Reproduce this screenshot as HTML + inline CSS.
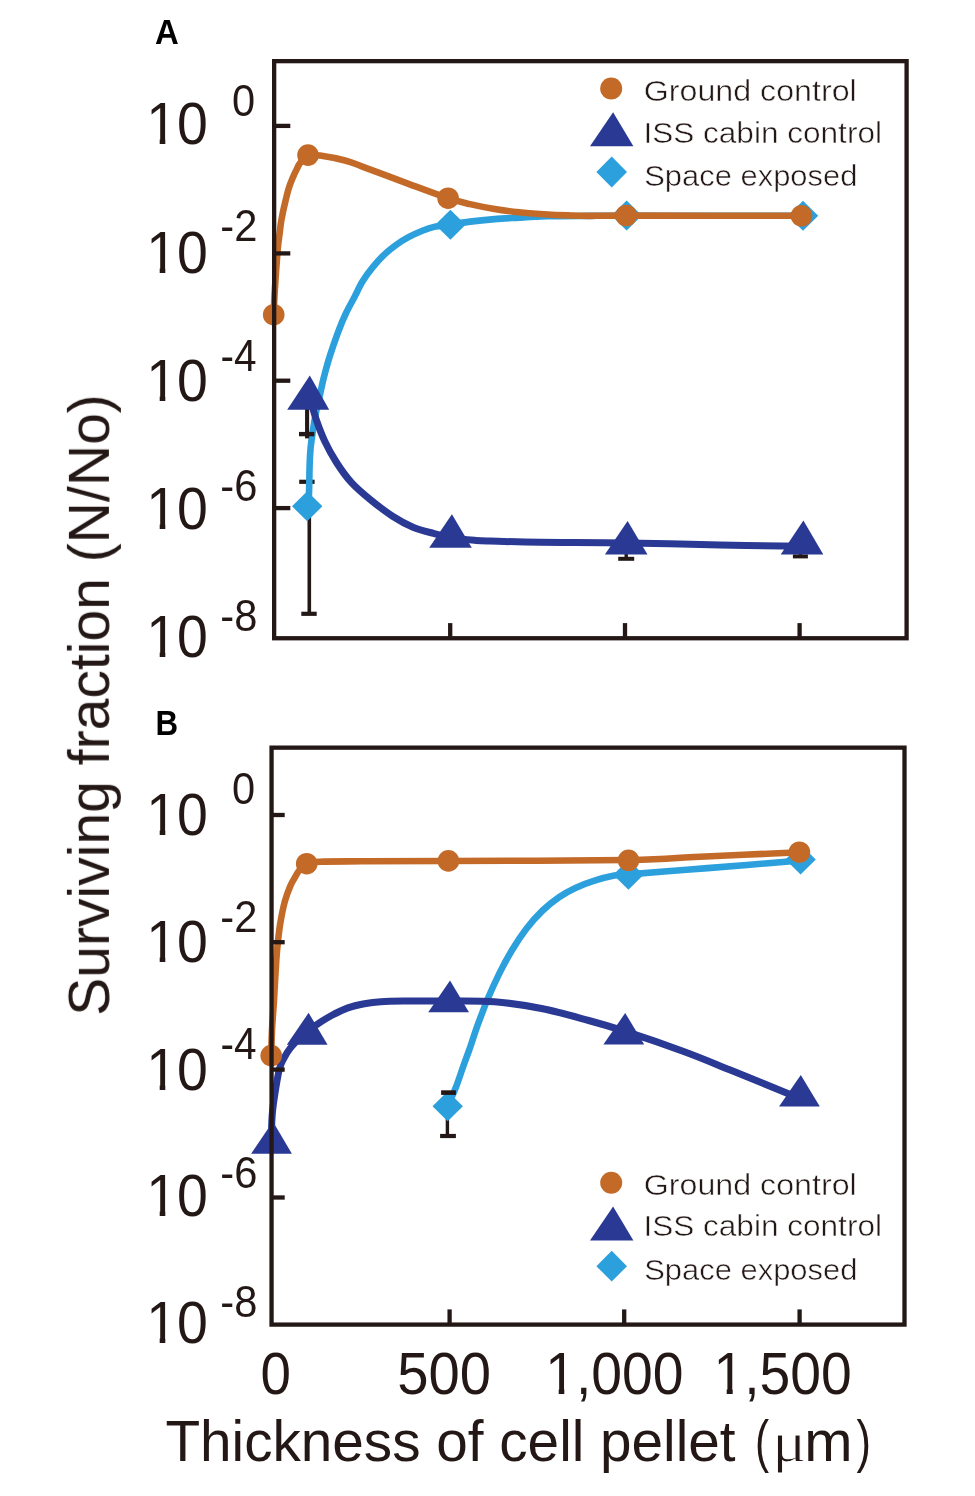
<!DOCTYPE html>
<html><head><meta charset="utf-8"><title>Surviving fraction vs thickness of cell pellet</title>
<style>
html,body{margin:0;padding:0;background:#fff;}
body{width:975px;height:1496px;overflow:hidden;font-family:"Liberation Sans",sans-serif;}
svg{display:block;}
</style></head>
<body>
<svg width="975" height="1496" viewBox="0 0 975 1496">
<rect width="975" height="1496" fill="#fff"/>
<line x1="309.3" y1="481.8" x2="309.3" y2="613.8" stroke="#231815" stroke-width="3.6"/>
<line x1="299.2" y1="481.8" x2="314.6" y2="481.8" stroke="#231815" stroke-width="4.2"/>
<line x1="301.3" y1="613.8" x2="316.7" y2="613.8" stroke="#231815" stroke-width="4.2"/>
<line x1="626.2" y1="552.0" x2="626.2" y2="558.8" stroke="#231815" stroke-width="3.4"/>
<line x1="618.2" y1="558.8" x2="634.2" y2="558.8" stroke="#231815" stroke-width="4.0"/>
<line x1="800.4" y1="550.0" x2="800.4" y2="556.4" stroke="#231815" stroke-width="3.4"/>
<line x1="792.9" y1="556.4" x2="807.9" y2="556.4" stroke="#231815" stroke-width="4.0"/>
<path d="M308.6,506.0 C308.7,502.8 309.0,493.4 309.2,486.7 C309.4,480.0 309.4,472.4 309.6,466.0 C309.8,459.6 310.0,454.0 310.6,448.0 C311.2,442.0 312.1,436.2 313.0,430.0 C313.9,423.8 315.0,417.5 316.3,411.0 C317.6,404.5 319.6,396.4 320.8,391.0 C322.0,385.6 322.4,383.2 323.6,378.4 C324.8,373.6 326.4,367.5 328.0,362.0 C329.6,356.5 331.4,351.1 333.3,345.6 C335.2,340.1 337.1,334.7 339.2,329.2 C341.3,323.7 343.6,318.2 346.2,312.8 C348.8,307.4 351.8,302.2 354.5,297.0 C357.2,291.8 359.3,286.7 362.3,281.8 C365.3,276.9 369.0,271.8 372.6,267.4 C376.2,262.9 379.9,258.8 383.8,255.1 C387.7,251.3 392.1,247.9 396.2,244.9 C400.3,241.9 404.2,239.5 408.5,237.2 C412.8,234.9 417.5,232.7 421.8,231.0 C426.1,229.3 429.3,228.0 434.1,226.9 C438.9,225.8 444.4,225.3 450.4,224.4 C456.4,223.5 462.6,222.5 470.0,221.6 C477.4,220.7 486.4,219.8 494.6,219.1 C502.8,218.4 510.5,218.1 519.2,217.6 C527.9,217.1 535.2,216.6 547.0,216.3 C558.8,216.0 576.8,216.0 590.0,215.9 C603.2,215.8 590.7,215.7 626.2,215.7 C661.7,215.7 773.5,215.8 803.0,215.8" fill="none" stroke="#2CA0DC" stroke-width="6.6" stroke-linejoin="round" stroke-linecap="butt"/>
<polygon points="307.2,491.3 322.4,506.3 307.2,521.3 292.0,506.3" fill="#2CA0DC"/>
<polygon points="450.4,209.8 465.6,224.8 450.4,239.8 435.2,224.8" fill="#2CA0DC"/>
<polygon points="626.6,200.6 641.8,215.6 626.6,230.6 611.4,215.6" fill="#2CA0DC"/>
<polygon points="803.0,200.8 818.2,215.8 803.0,230.8 787.8,215.8" fill="#2CA0DC"/>
<line x1="307.1" y1="405.0" x2="307.1" y2="438.4" stroke="#231815" stroke-width="4.1"/>
<line x1="299.0" y1="434.1" x2="314.3" y2="434.1" stroke="#231815" stroke-width="4.4"/>
<path d="M309.0,396.0 C309.2,396.8 309.2,396.3 310.5,400.5 C311.8,404.7 314.3,414.2 316.7,421.0 C319.1,427.8 321.6,434.7 324.9,441.5 C328.1,448.3 331.8,455.1 336.2,462.0 C340.6,468.9 345.5,476.1 351.5,482.6 C357.5,489.1 365.1,495.4 372.0,501.0 C378.9,506.6 385.8,511.8 392.6,516.2 C399.4,520.6 406.2,524.3 413.0,527.2 C419.8,530.1 427.1,531.7 433.6,533.4 C440.1,535.1 445.2,536.5 452.0,537.6 C458.8,538.8 468.3,539.7 474.6,540.3 C480.9,540.9 479.1,540.8 490.0,541.1 C500.9,541.4 517.3,542.0 540.0,542.3 C562.7,542.6 596.2,542.4 626.2,542.9 C656.2,543.4 690.7,544.5 720.0,545.0 C749.3,545.5 788.3,546.0 802.0,546.2" fill="none" stroke="#2A3A94" stroke-width="7.0" stroke-linejoin="round" stroke-linecap="butt"/>
<polygon points="309.8,375.6 329.2,409.7 287.2,409.7" fill="#2A3A94"/>
<polygon points="451.9,514.2 471.8,547.8 429.2,547.8" fill="#2A3A94"/>
<polygon points="627.6,520.9 647.5,554.5 604.9,554.5" fill="#2A3A94"/>
<polygon points="803.4,520.6 823.3,554.5 780.7,554.5" fill="#2A3A94"/>
<path d="M273.7,314.5 C273.9,310.5 274.1,301.1 274.8,290.4 C275.5,279.7 276.8,260.0 277.6,250.3 C278.4,240.6 279.2,237.1 279.8,232.0 C280.4,226.9 280.6,224.4 281.4,220.0 C282.2,215.6 283.2,210.7 284.4,205.6 C285.6,200.5 287.1,194.0 288.5,189.2 C289.9,184.4 291.7,180.3 293.1,176.9 C294.5,173.5 295.8,171.1 297.0,168.7 C298.2,166.3 298.5,164.8 300.4,162.6 C302.2,160.3 304.8,156.4 308.1,155.2 C311.4,154.0 313.9,154.7 320.0,155.6 C326.1,156.5 337.9,158.7 345.0,160.5 C352.1,162.3 351.7,162.7 362.3,166.6 C372.9,170.5 394.2,178.5 408.5,183.8 C422.8,189.1 437.9,194.8 448.1,198.2 C458.4,201.6 462.2,202.3 470.0,204.1 C477.8,205.9 486.4,207.6 494.6,209.0 C502.8,210.4 511.0,211.4 519.2,212.3 C527.4,213.2 535.6,213.7 543.8,214.2 C552.0,214.7 560.8,215.1 568.5,215.4 C576.2,215.7 580.4,215.9 590.0,215.9 C599.6,215.9 591.0,215.6 626.2,215.6 C661.5,215.6 772.3,215.8 801.5,215.8" fill="none" stroke="#C36A28" stroke-width="6.6" stroke-linejoin="round" stroke-linecap="butt"/>
<circle cx="273.7" cy="314.7" r="10.8" fill="#C36A28"/>
<circle cx="308.0" cy="155.1" r="10.8" fill="#C36A28"/>
<circle cx="448.1" cy="198.2" r="10.8" fill="#C36A28"/>
<circle cx="626.2" cy="215.5" r="10.8" fill="#C36A28"/>
<circle cx="801.5" cy="215.8" r="10.8" fill="#C36A28"/>
<circle cx="611.2" cy="88.5" r="11.0" fill="#C36A28"/>
<polygon points="613.1,112.2 633.4,146.2 590.0,146.2" fill="#2A3A94"/>
<polygon points="611.7,156.6 627.0,172.0 611.7,187.4 596.4,172.0" fill="#2CA0DC"/>
<rect x="274.15" y="61.15" width="632.45" height="577.10" fill="none" stroke="#231815" stroke-width="4.3"/>
<line x1="274.1" y1="125.9" x2="290.3" y2="125.9" stroke="#231815" stroke-width="4.3"/>
<line x1="274.1" y1="253.4" x2="290.3" y2="253.4" stroke="#231815" stroke-width="4.3"/>
<line x1="274.1" y1="380.7" x2="290.3" y2="380.7" stroke="#231815" stroke-width="4.3"/>
<line x1="274.1" y1="508.1" x2="290.3" y2="508.1" stroke="#231815" stroke-width="4.3"/>
<line x1="450.2" y1="638.2" x2="450.2" y2="623.1" stroke="#231815" stroke-width="4.3"/>
<line x1="625.0" y1="638.2" x2="625.0" y2="623.1" stroke="#231815" stroke-width="4.3"/>
<line x1="799.6" y1="638.2" x2="799.6" y2="623.1" stroke="#231815" stroke-width="4.3"/>
<line x1="447.4" y1="1092.6" x2="447.4" y2="1136.0" stroke="#231815" stroke-width="3.4"/>
<line x1="440.1" y1="1136.0" x2="455.9" y2="1136.0" stroke="#231815" stroke-width="4.2"/>
<path d="M447.7,1106.3 C449.1,1103.1 453.4,1093.5 455.9,1087.2 C458.4,1080.9 460.3,1074.7 462.5,1068.5 C464.7,1062.3 466.6,1057.3 469.2,1050.0 C471.8,1042.7 474.7,1033.1 477.9,1024.4 C481.1,1015.7 484.6,1006.2 488.2,997.7 C491.8,989.2 495.6,981.0 499.5,973.1 C503.4,965.2 507.4,957.9 511.8,950.5 C516.2,943.1 521.1,935.7 526.2,929.0 C531.3,922.3 537.1,915.8 542.6,910.5 C548.1,905.2 553.5,901.0 559.0,897.2 C564.5,893.4 569.6,890.6 575.4,887.9 C581.2,885.2 587.3,882.8 593.8,880.8 C600.3,878.8 608.6,876.7 614.4,875.6 C620.2,874.5 616.1,875.4 628.7,874.4 C641.3,873.4 669.8,871.1 690.0,869.5 C710.2,867.9 731.6,866.2 750.0,864.7 C768.4,863.2 792.2,861.2 800.6,860.5" fill="none" stroke="#2CA0DC" stroke-width="6.6" stroke-linejoin="round" stroke-linecap="butt"/>
<polygon points="447.7,1091.3 462.9,1106.3 447.7,1121.3 432.5,1106.3" fill="#2CA0DC"/>
<polygon points="628.4,859.8 643.6,874.8 628.4,889.8 613.2,874.8" fill="#2CA0DC"/>
<polygon points="800.6,844.5 815.8,859.5 800.6,874.5 785.4,859.5" fill="#2CA0DC"/>
<line x1="441.1" y1="1092.6" x2="455.9" y2="1092.6" stroke="#231815" stroke-width="4.6"/>
<path d="M271.3,1140.0 C271.4,1135.8 271.6,1122.7 272.2,1115.0 C272.8,1107.3 273.7,1101.5 274.9,1093.8 C276.1,1086.1 277.9,1075.0 279.4,1069.0 C280.9,1063.0 282.1,1061.5 284.0,1058.0 C285.9,1054.5 287.4,1051.7 290.5,1047.9 C293.6,1044.1 298.1,1039.1 302.5,1035.2 C306.9,1031.3 312.4,1027.7 317.2,1024.4 C322.0,1021.1 326.4,1018.2 331.5,1015.5 C336.6,1012.8 342.4,1009.9 347.9,1007.9 C353.4,1005.9 358.9,1004.8 364.4,1003.8 C369.9,1002.8 374.3,1002.2 380.8,1001.8 C387.3,1001.3 394.4,1001.2 403.3,1001.1 C412.2,1001.0 426.6,1001.0 434.1,1001.0 C441.7,1001.0 438.6,1000.9 448.6,1001.0 C458.7,1001.1 478.9,1000.5 494.4,1001.8 C509.9,1003.0 525.8,1005.4 541.5,1008.5 C557.2,1011.6 574.7,1016.7 588.7,1020.5 C602.7,1024.3 609.8,1026.3 625.5,1031.4 C641.2,1036.5 665.5,1044.8 683.0,1051.2 C700.5,1057.6 710.8,1062.1 730.3,1070.0 C749.8,1077.9 788.4,1093.7 800.0,1098.4" fill="none" stroke="#2A3A94" stroke-width="7.0" stroke-linejoin="round" stroke-linecap="butt"/>
<polygon points="272.9,1121.6 291.9,1153.8 251.1,1153.8" fill="#2A3A94"/>
<polygon points="308.6,1012.8 327.6,1044.8 286.8,1044.8" fill="#2A3A94"/>
<polygon points="450.0,980.4 469.0,1012.3 428.2,1012.3" fill="#2A3A94"/>
<polygon points="625.2,1013.0 644.2,1044.6 603.4,1044.6" fill="#2A3A94"/>
<polygon points="800.8,1074.9 819.8,1106.5 779.0,1106.5" fill="#2A3A94"/>
<path d="M271.2,1055.5 C271.3,1051.2 271.6,1039.0 272.0,1030.0 C272.4,1021.0 273.2,1013.2 273.9,1001.5 C274.6,989.8 275.6,970.2 276.3,960.0 C277.0,949.8 277.4,946.3 278.1,940.0 C278.8,933.7 279.4,928.4 280.5,922.0 C281.6,915.6 283.2,907.5 284.8,901.5 C286.4,895.5 288.4,890.5 290.2,886.2 C292.0,881.9 294.3,878.5 295.8,875.9 C297.3,873.3 297.5,872.4 299.3,870.4 C301.1,868.4 303.2,865.2 306.6,863.8 C310.1,862.3 310.8,862.1 320.0,861.7 C329.2,861.3 340.6,861.4 362.0,861.3 C383.4,861.2 404.2,861.2 448.6,861.0 C493.0,860.8 586.5,860.7 628.4,860.0 C670.3,859.3 671.5,858.0 700.0,856.7 C728.5,855.4 783.0,853.0 799.6,852.3" fill="none" stroke="#C36A28" stroke-width="6.6" stroke-linejoin="round" stroke-linecap="butt"/>
<circle cx="271.2" cy="1055.6" r="10.8" fill="#C36A28"/>
<circle cx="306.7" cy="863.7" r="10.8" fill="#C36A28"/>
<circle cx="448.4" cy="860.9" r="10.8" fill="#C36A28"/>
<circle cx="628.5" cy="860.3" r="10.8" fill="#C36A28"/>
<circle cx="799.4" cy="852.2" r="10.8" fill="#C36A28"/>
<circle cx="611.2" cy="1182.7" r="11.0" fill="#C36A28"/>
<polygon points="613.1,1206.4 633.4,1240.4 590.0,1240.4" fill="#2A3A94"/>
<polygon points="611.7,1250.8 627.0,1266.2 611.7,1281.6 596.4,1266.2" fill="#2CA0DC"/>
<rect x="271.55" y="747.65" width="632.95" height="576.95" fill="none" stroke="#231815" stroke-width="4.3"/>
<line x1="271.6" y1="815.0" x2="284.7" y2="815.0" stroke="#231815" stroke-width="4.3"/>
<line x1="271.6" y1="942.2" x2="284.7" y2="942.2" stroke="#231815" stroke-width="4.3"/>
<line x1="271.6" y1="1069.6" x2="284.7" y2="1069.6" stroke="#231815" stroke-width="4.3"/>
<line x1="271.6" y1="1197.5" x2="284.7" y2="1197.5" stroke="#231815" stroke-width="4.3"/>
<line x1="449.6" y1="1324.6" x2="449.6" y2="1309.4" stroke="#231815" stroke-width="4.3"/>
<line x1="624.2" y1="1324.6" x2="624.2" y2="1309.4" stroke="#231815" stroke-width="4.3"/>
<line x1="799.6" y1="1324.6" x2="799.6" y2="1309.4" stroke="#231815" stroke-width="4.3"/>
<g opacity="0.999">
<text transform="translate(155.10,43.80) scale(0.9480,1)" font-family="'Liberation Sans',sans-serif" font-size="34.8" fill="#000" font-weight="bold">A</text>
<text transform="translate(155.60,734.90) scale(0.9000,1)" font-family="'Liberation Sans',sans-serif" font-size="34.8" fill="#000" font-weight="bold">B</text>
<text transform="translate(146.24,144.40) scale(0.9396,1)" font-family="'Liberation Sans',sans-serif" font-size="59" fill="#231815">10</text>
<text transform="translate(146.24,272.80) scale(0.9396,1)" font-family="'Liberation Sans',sans-serif" font-size="59" fill="#231815">10</text>
<text transform="translate(146.24,400.60) scale(0.9396,1)" font-family="'Liberation Sans',sans-serif" font-size="59" fill="#231815">10</text>
<text transform="translate(146.24,529.40) scale(0.9396,1)" font-family="'Liberation Sans',sans-serif" font-size="59" fill="#231815">10</text>
<text transform="translate(146.24,656.60) scale(0.9396,1)" font-family="'Liberation Sans',sans-serif" font-size="59" fill="#231815">10</text>
<text transform="translate(146.24,835.10) scale(0.9396,1)" font-family="'Liberation Sans',sans-serif" font-size="59" fill="#231815">10</text>
<text transform="translate(146.24,962.00) scale(0.9396,1)" font-family="'Liberation Sans',sans-serif" font-size="59" fill="#231815">10</text>
<text transform="translate(146.24,1090.00) scale(0.9396,1)" font-family="'Liberation Sans',sans-serif" font-size="59" fill="#231815">10</text>
<text transform="translate(146.24,1216.30) scale(0.9396,1)" font-family="'Liberation Sans',sans-serif" font-size="59" fill="#231815">10</text>
<text transform="translate(146.24,1343.10) scale(0.9396,1)" font-family="'Liberation Sans',sans-serif" font-size="59" fill="#231815">10</text>
<text transform="translate(231.95,115.80) scale(0.9455,1)" font-family="'Liberation Sans',sans-serif" font-size="44" fill="#231815">0</text>
<text transform="translate(220.35,240.80) scale(0.9467,1)" font-family="'Liberation Sans',sans-serif" font-size="44" fill="#231815">-2</text>
<text transform="translate(220.38,370.50) scale(0.9216,1)" font-family="'Liberation Sans',sans-serif" font-size="44" fill="#231815">-4</text>
<text transform="translate(220.35,500.90) scale(0.9467,1)" font-family="'Liberation Sans',sans-serif" font-size="44" fill="#231815">-6</text>
<text transform="translate(220.35,631.00) scale(0.9467,1)" font-family="'Liberation Sans',sans-serif" font-size="44" fill="#231815">-8</text>
<text transform="translate(231.95,803.90) scale(0.9455,1)" font-family="'Liberation Sans',sans-serif" font-size="44" fill="#231815">0</text>
<text transform="translate(220.35,931.50) scale(0.9467,1)" font-family="'Liberation Sans',sans-serif" font-size="44" fill="#231815">-2</text>
<text transform="translate(220.38,1059.00) scale(0.9216,1)" font-family="'Liberation Sans',sans-serif" font-size="44" fill="#231815">-4</text>
<text transform="translate(220.35,1188.30) scale(0.9467,1)" font-family="'Liberation Sans',sans-serif" font-size="44" fill="#231815">-6</text>
<text transform="translate(220.35,1316.80) scale(0.9467,1)" font-family="'Liberation Sans',sans-serif" font-size="44" fill="#231815">-8</text>
<text transform="translate(260.44,1393.90) scale(0.9276,1)" font-family="'Liberation Sans',sans-serif" font-size="59" fill="#231815">0</text>
<text transform="translate(397.29,1393.90) scale(0.9532,1)" font-family="'Liberation Sans',sans-serif" font-size="59" fill="#231815">500</text>
<text transform="translate(545.15,1393.90) scale(0.9370,1)" font-family="'Liberation Sans',sans-serif" font-size="59" fill="#231815">1,000</text>
<text transform="translate(713.45,1393.90) scale(0.9370,1)" font-family="'Liberation Sans',sans-serif" font-size="59" fill="#231815">1,500</text>
<text transform="translate(165.40,1461.00) scale(1.0034,1)" font-family="'Liberation Sans',sans-serif" font-size="56.5" fill="#231815">Thickness of cell pellet</text>
<text transform="translate(755.05,1461.00) scale(0.7500,1)" font-family="'Liberation Sans',sans-serif" font-size="56.5" fill="#231815">(</text>
<text transform="translate(772.30,1461.00) scale(1.1000,1)" font-family="'Liberation Serif',serif" font-size="58" fill="#231815" stroke="#fff" stroke-width="0.9">μ</text>
<text transform="translate(804.22,1461.00) scale(1.0268,1)" font-family="'Liberation Sans',sans-serif" font-size="56.5" fill="#231815">m</text>
<text transform="translate(856.50,1461.00) scale(0.7687,1)" font-family="'Liberation Sans',sans-serif" font-size="56.5" fill="#231815">)</text>
<text transform="translate(108.90,1015.79) rotate(-90) scale(0.9927,1)" font-family="'Liberation Sans',sans-serif" font-size="57.5" fill="#231815">Surviving fraction (N/No)</text>
<text transform="translate(643.73,101.40) scale(1.0737,1)" font-family="'Liberation Sans',sans-serif" font-size="30" fill="#231815" stroke="#fff" stroke-width="0.5">Ground control</text>
<text transform="translate(643.40,142.50) scale(1.0523,1)" font-family="'Liberation Sans',sans-serif" font-size="30" fill="#231815" stroke="#fff" stroke-width="0.5">ISS cabin control</text>
<text transform="translate(644.17,186.40) scale(1.0312,1)" font-family="'Liberation Sans',sans-serif" font-size="30" fill="#231815" stroke="#fff" stroke-width="0.5">Space exposed</text>
<text transform="translate(643.73,1195.30) scale(1.0737,1)" font-family="'Liberation Sans',sans-serif" font-size="30" fill="#231815" stroke="#fff" stroke-width="0.5">Ground control</text>
<text transform="translate(643.40,1236.40) scale(1.0523,1)" font-family="'Liberation Sans',sans-serif" font-size="30" fill="#231815" stroke="#fff" stroke-width="0.5">ISS cabin control</text>
<text transform="translate(644.17,1280.30) scale(1.0312,1)" font-family="'Liberation Sans',sans-serif" font-size="30" fill="#231815" stroke="#fff" stroke-width="0.5">Space exposed</text>
</g>
<rect x="149.0" y="138.9" width="10.7" height="6.6" fill="#fff"/>
<rect x="165.3" y="138.9" width="10.7" height="6.6" fill="#fff"/>
<rect x="149.0" y="267.3" width="10.7" height="6.6" fill="#fff"/>
<rect x="165.3" y="267.3" width="10.7" height="6.6" fill="#fff"/>
<rect x="149.0" y="395.1" width="10.7" height="6.6" fill="#fff"/>
<rect x="165.3" y="395.1" width="10.7" height="6.6" fill="#fff"/>
<rect x="149.0" y="523.9" width="10.7" height="6.6" fill="#fff"/>
<rect x="165.3" y="523.9" width="10.7" height="6.6" fill="#fff"/>
<rect x="149.0" y="651.1" width="10.7" height="6.6" fill="#fff"/>
<rect x="165.3" y="651.1" width="10.7" height="6.6" fill="#fff"/>
<rect x="149.0" y="829.6" width="10.7" height="6.6" fill="#fff"/>
<rect x="165.3" y="829.6" width="10.7" height="6.6" fill="#fff"/>
<rect x="149.0" y="956.5" width="10.7" height="6.6" fill="#fff"/>
<rect x="165.3" y="956.5" width="10.7" height="6.6" fill="#fff"/>
<rect x="149.0" y="1084.5" width="10.7" height="6.6" fill="#fff"/>
<rect x="165.3" y="1084.5" width="10.7" height="6.6" fill="#fff"/>
<rect x="149.0" y="1210.8" width="10.7" height="6.6" fill="#fff"/>
<rect x="165.3" y="1210.8" width="10.7" height="6.6" fill="#fff"/>
<rect x="149.0" y="1337.6" width="10.7" height="6.6" fill="#fff"/>
<rect x="165.3" y="1337.6" width="10.7" height="6.6" fill="#fff"/>
<rect x="548.0" y="1388.4" width="10.7" height="6.6" fill="#fff"/>
<rect x="564.3" y="1388.4" width="10.7" height="6.6" fill="#fff"/>
<rect x="716.0" y="1388.4" width="10.7" height="6.6" fill="#fff"/>
<rect x="732.7" y="1388.4" width="10.3" height="6.6" fill="#fff"/>
</svg>
</body></html>
